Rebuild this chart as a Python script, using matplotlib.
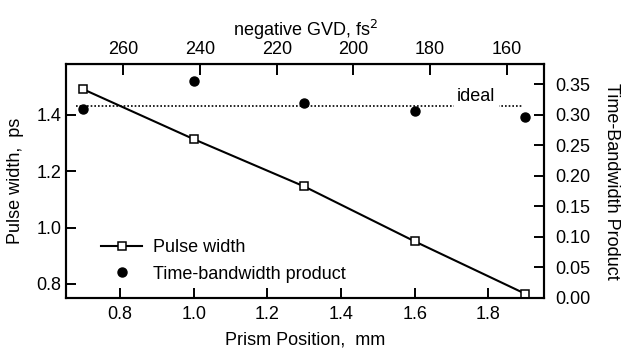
import matplotlib
matplotlib.use("Agg")
import matplotlib.pyplot as plt
import numpy as np

plt.rcParams['font.family'] = ['Liberation Sans', 'DejaVu Sans']

# Data
prism_pos = [0.7, 1.0, 1.3, 1.6, 1.9]
pulse_width = [1.491, 1.314, 1.146, 0.951, 0.765]
tbp = [0.310, 0.356, 0.319, 0.307, 0.297]
ideal_tbp = 0.315
ideal_span = [0.68, 1.895]

x_ticks = [0.8, 1.0, 1.2, 1.4, 1.6, 1.8]
left_ticks = [0.8, 1.0, 1.2, 1.4]
right_ticks = [0.00, 0.05, 0.10, 0.15, 0.20, 0.25, 0.30, 0.35]
gvd_ticks = [260, 240, 220, 200, 180, 160]
# negative GVD (fs^2) = GVD_A - GVD_B * prism position (mm)
GVD_A = 337.7
GVD_B = 96.06

fs = 13
fig = plt.figure(figsize=(6.24, 3.51), dpi=100)
ax = fig.add_axes([0.1058, 0.151, 0.7660, 0.6667])
ax2 = ax.twinx()

lw = 1.5
ln1, = ax.plot(prism_pos, pulse_width, '-', color='black', lw=lw,
               marker='s', ms=5.2, mfc='white', mec='black', mew=1.1,
               label='Pulse width', zorder=3)
ln2, = ax2.plot(prism_pos, tbp, 'o', color='black', ms=6.5,
                label='Time-bandwidth product', zorder=3)
ax2.hlines(ideal_tbp, ideal_span[0], ideal_span[1], colors='black',
           linestyles=(0, (1, 1.2)), lw=1.2, zorder=2)
ax2.text(1.767, ideal_tbp + 0.002, 'ideal', ha='center', va='bottom',
         fontsize=fs, bbox=dict(facecolor='white', edgecolor='none', pad=2.5),
         zorder=2.5)

ax.set_xlim(0.653, 1.951)
ax.set_ylim(0.75, 1.581)
ax2.set_ylim(0.0, 0.3836)

ax.set_xticks(x_ticks)
ax.set_xticklabels([f"{v:.1f}" for v in x_ticks])
ax.set_yticks(left_ticks)
ax.set_yticklabels([f"{v:.1f}" for v in left_ticks])
ax2.set_yticks(right_ticks)
ax2.set_yticklabels([f"{v:.2f}" for v in right_ticks])

for a in (ax, ax2):
    for s in a.spines.values():
        s.set_linewidth(1.5)
ax.tick_params(axis='both', direction='in', length=7, width=1.4,
               labelsize=fs)
ax.tick_params(axis='x', pad=6)
ax.tick_params(axis='y', pad=3.5)
ax2.tick_params(axis='y', direction='in', length=7, width=1.4,
                labelsize=fs, pad=8)

secax = ax.secondary_xaxis('top', functions=(lambda x: GVD_A - GVD_B * x,
                                              lambda g: (GVD_A - g) / GVD_B))
secax.set_xticks(gvd_ticks)
secax.set_xticklabels([str(v) for v in gvd_ticks])
secax.tick_params(direction='in', length=8, width=1.4, labelsize=fs, pad=4)
secax.set_xlabel('negative GVD, fs$^2$', fontsize=fs, labelpad=4)

ax.set_xlabel('Prism Position,  mm', fontsize=fs, labelpad=6)
ax.set_ylabel('Pulse width,  ps', fontsize=fs, labelpad=9)
ax2.set_ylabel('Time-Bandwidth Product', fontsize=fs, rotation=270,
               labelpad=21)

leg = ax.legend([ln1, ln2], ['Pulse width', 'Time-bandwidth product'],
                loc='upper left', bbox_to_anchor=(0.073, 0.25),
                frameon=False, fontsize=fs, handlelength=2.3,
                handletextpad=0.6, labelspacing=0.5, borderpad=0,
                borderaxespad=0)

fig.savefig('out.png', dpi=100)
